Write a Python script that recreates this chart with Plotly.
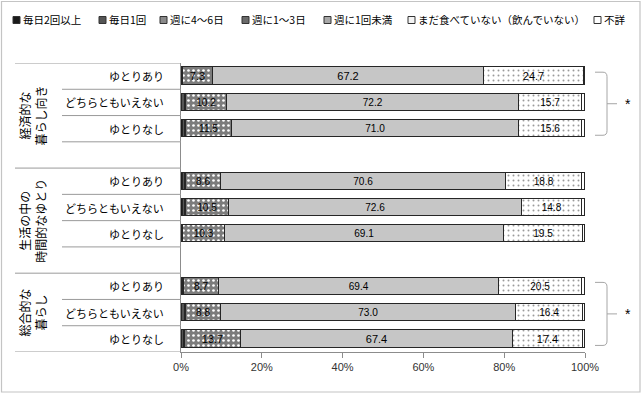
import plotly.graph_objects as go

# ---------------- data ----------------
group_labels = ["経済的な<br>暮らし向き", "生活の中の<br>時間的なゆとり", "総合的な<br>暮らし"]
row_labels = ["ゆとりあり", "どちらともいえない", "ゆとりなし"]
series_names = ["毎日2回以上", "毎日1回", "週に4～6日", "週に1～3日", "週に1回未満",
                "まだ食べていない（飲んでいない）", "不詳"]

s_2plus = [0.2, 0.3, 0.4, 0.4, 0.4, 0.2, 0.3, 0.3, 0.3]
s_1day = [0.2, 0.6, 0.5, 0.6, 0.6, 0.1, 0.2, 0.6, 0.5]
s_4to6 = [0.2, 0.3, 0.3, 0.3, 0.3, 0.2, 0.2, 0.3, 0.3]
s_1to3 = [7.3, 10.2, 11.5, 8.6, 10.5, 10.3, 8.7, 8.8, 13.7]
s_lt1 = [67.2, 72.2, 71.0, 70.6, 72.6, 69.1, 69.4, 73.0, 67.4]
s_not = [24.7, 15.7, 15.6, 18.8, 14.8, 19.5, 20.5, 16.4, 17.4]
s_unk = [0.2, 0.7, 0.7, 0.7, 0.8, 0.6, 0.7, 0.6, 0.4]

x_ticks = [0, 20, 40, 60, 80, 100]
x_tick_text = ["0%", "20%", "40%", "60%", "80%", "100%"]
sig_groups = [0, 2]          # groups marked with "*"
sig_mark = "*"

# slot index of each bar (blank slot between groups)
slots = [0, 1, 2, 4, 5, 6, 8, 9, 10]
group_slots = [(0, 3), (4, 7), (8, 10)]

# ---------------- styling ----------------
JP = "Noto Sans CJK JP"
NUM = "Liberation Sans"
L, R, T, B = 181, 59, 63, 46
W, H = 644, 398
PW = W - L - R
PH = H - T - B


def px_x(px):
    return (px - L) / PW


def px_y(py):
    return (H - B - py) / PH


styles = [
    dict(color="#1a1a1a"),
    dict(color="#555555"),
    dict(color="#8a8a8a"),
    dict(color="#808080", pattern=dict(shape=".", fgcolor="#ffffff", bgcolor="#7c7c7c",
                                        size=5, solidity=0.22, fillmode="replace")),
    dict(color="#c8c8c8", pattern=dict(shape=".", fgcolor="#a4a4a4", bgcolor="#e2e2e2",
                                        size=2, solidity=0.5, fillmode="replace")),
    dict(color="#ffffff", pattern=dict(shape=".", fgcolor="#9a9a9a", bgcolor="#ffffff",
                                        size=5, solidity=0.12, fillmode="replace")),
    dict(color="#ffffff"),
]
labeled = [False, False, False, True, True, True, False]
all_series = [s_2plus, s_1day, s_4to6, s_1to3, s_lt1, s_not, s_unk]

fig = go.Figure()
for name, vals, st, lab in zip(series_names, all_series, styles, labeled):
    marker = dict(color=st["color"], line=dict(color="#262626", width=1))
    if "pattern" in st:
        marker["pattern"] = st["pattern"]
    fig.add_trace(go.Bar(
        x=vals, y=slots, orientation="h", name=name, marker=marker,
        width=0.66, showlegend=False,
        text=[f"{v:.1f}" for v in vals] if lab else None,
        textposition="inside" if lab else "none",
        insidetextanchor="middle", textangle=0,
        textfont=dict(family=NUM, size=11, color="#000000"),
        hoverinfo="x+name",
    ))

fig.update_layout(
    barmode="stack",
    width=W, height=H,
    margin=dict(l=L, r=R, t=T, b=B),
    paper_bgcolor="white", plot_bgcolor="white",
    font=dict(family=JP, size=11, color="#000000"),
    bargap=0,
    xaxis=dict(range=[0, 100], tickvals=x_ticks, ticktext=x_tick_text, showgrid=False,
               zeroline=False, showline=True, linecolor="#8c8c8c", linewidth=1,
               ticks="outside", ticklen=5, tickcolor="#8c8c8c",
               tickfont=dict(family=NUM, size=11, color="#333333"), fixedrange=True),
    yaxis=dict(range=[10.5, -0.5], showticklabels=False, showgrid=False, zeroline=False,
               showline=True, linecolor="#8c8c8c", linewidth=1, fixedrange=True),
)

shapes = []
annotations = []

# left category table lines
line_col = "#9a9a9a"
for yv in [-0.5, 3.5, 7.5, 10.5]:
    shapes.append(dict(type="line", xref="paper", yref="y", x0=px_x(15), x1=0, y0=yv, y1=yv,
                       line=dict(color=line_col, width=1)))
for yv in [0.5, 1.5, 2.5, 4.5, 5.5, 6.5, 8.5, 9.5]:
    shapes.append(dict(type="line", xref="paper", yref="y", x0=px_x(62), x1=0, y0=yv, y1=yv,
                       line=dict(color=line_col, width=1)))

# row labels
for i, s in enumerate(slots):
    annotations.append(dict(xref="paper", yref="y", x=px_x(166), y=s, text=row_labels[i % 3],
                            showarrow=False, xanchor="right", yanchor="middle",
                            font=dict(family=JP, size=11, color="#000000")))
# group labels (vertical)
for g, (a, b) in zip(group_labels, group_slots):
    annotations.append(dict(xref="paper", yref="y", x=px_x(33), y=(a + b) / 2, text=g,
                            showarrow=False, textangle=-90, xanchor="center", yanchor="middle",
                            font=dict(family=JP, size=12, color="#000000")))

# significance brackets
bx0, bx1, bx2 = px_x(595), px_x(607), px_x(617)
ry = 0.17
r_x = bx1 - px_x(603)
for gi in sig_groups:
    top = slots[3 * gi] - 0.15
    bot = slots[3 * gi + 2] + 0.25
    mid = (top + bot) / 2
    path = (f"M {bx0},{top} L {bx1 - r_x},{top} Q {bx1},{top} {bx1},{top + ry} "
            f"L {bx1},{bot - ry} Q {bx1},{bot} {bx1 - r_x},{bot} L {bx0},{bot}")
    shapes.append(dict(type="path", xref="paper", yref="y", path=path,
                       line=dict(color="#a6a6a6", width=1)))
    shapes.append(dict(type="line", xref="paper", yref="y", x0=bx1, x1=bx2, y0=mid, y1=mid,
                       line=dict(color="#a6a6a6", width=1)))
    annotations.append(dict(xref="paper", yref="y", x=px_x(628), y=mid, text=sig_mark,
                            showarrow=False, xanchor="center", yanchor="middle",
                            font=dict(family=NUM, size=14, color="#000000")))

# custom legend
leg_icon_x = [13, 99, 160, 242, 324, 408, 594]
leg_y = 20
icon_fill = ["#1a1a1a", "#555555", "#8a8a8a", "#6a6a6a", "#a8a8a8", "#f4f4f4", "#ffffff"]
for name, ix, fc in zip(series_names, leg_icon_x, icon_fill):
    shapes.append(dict(type="rect", xref="paper", yref="paper",
                       x0=px_x(ix), x1=px_x(ix + 7), y0=px_y(leg_y + 3.5), y1=px_y(leg_y - 3.5),
                       fillcolor=fc, line=dict(color="#333333", width=1)))
    annotations.append(dict(xref="paper", yref="paper", x=px_x(ix + 8), y=px_y(leg_y),
                            text=name, showarrow=False, xanchor="left", yanchor="middle",
                            font=dict(family=JP, size=10.5, color="#000000")))

# chart border
shapes.append(dict(type="rect", xref="paper", yref="paper",
                   x0=px_x(1.5), x1=px_x(640), y0=px_y(392), y1=px_y(1.5),
                   line=dict(color="#c4c4c4", width=1.2), fillcolor="rgba(0,0,0,0)"))

fig.update_layout(shapes=shapes, annotations=annotations)
fig.write_html("out.html", config={"displayModeBar": False},
               post_script="document.body.style.margin='0';document.body.style.padding='0';")
